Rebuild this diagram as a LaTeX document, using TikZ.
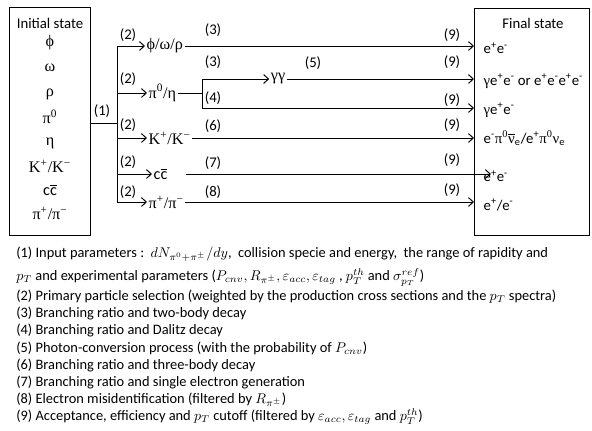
\documentclass[tikz,border=0pt]{standalone}
\usepackage{fontspec}
\setmainfont{Carlito}
\newfontfamily\grk{Liberation Serif}
\usetikzlibrary{arrows.meta,positioning}
\newcommand{\epos}{e\textsuperscript{+}}
\newcommand{\eneg}{e\textsuperscript{-}}

\begin{document}
\begin{tikzpicture}[
    x=0.025cm, y=-0.025cm,
    statebox/.style={draw, line width=0.7pt, inner sep=0pt},
    ptc/.style={inner sep=1pt, font=\grk\fontsize{11.5}{13}\selectfont},
    txt/.style={inner sep=1pt, font=\fontsize{10.5}{12}\selectfont},
    num/.style={inner sep=0pt, font=\fontsize{10.5}{12}\selectfont},
    ln/.style={line width=0.7pt},
    arr/.style={-{Straight Barb[length=1.2mm,width=2.2mm]}, line width=0.7pt},
]
    \useasboundingbox (0,0) rectangle (592,430);

    % boxes
    \node[statebox, minimum width=2cm, minimum height=5.675cm] (init) at (50,121.5) {};
    \node[statebox, minimum width=2.875cm, minimum height=5.65cm] (fin) at (532,122) {};

    \node[txt] (inittitle) at (50,23) {Initial state};
    \node[ptc] (i1) at (50,43) {ϕ};
    \node[ptc] (i2) at (50,68) {ω};
    \node[ptc] (i3) at (50,94) {ρ};
    \node[ptc] (i4) at (50,117) {π\textsuperscript{0}};
    \node[ptc] (i5) at (50,143) {η};
    \node[ptc] (i6) at (50,166) {K\textsuperscript{+}/K\textsuperscript{−}};
    \node[txt, font=\fontsize{11.5}{13}\selectfont] (i7) at (50,190) {c$\overline{\mbox{c}}$};
    \node[ptc] (i8) at (50,213) {π\textsuperscript{+}/π\textsuperscript{−}};

    \node[txt] (fintitle) at (533,23) {Final state};
    \node[txt, anchor=west] (f1) at (482,48) {\epos\eneg};
    \node[txt, anchor=west] (f2) at (482,81) {{\grk γ}\epos\eneg{} or \epos\eneg\epos\eneg};
    \node[txt, anchor=west] (f3) at (482,110) {{\grk γ}\epos\eneg};
    \node[txt, anchor=west] (f4) at (482,138) {\eneg{\grk π\textsuperscript{0}$\overline{\mbox{\grk ν}}$}\textsubscript{e}/\epos{\grk π\textsuperscript{0}ν}\textsubscript{e}};
    \node[txt, anchor=west] (f5) at (482,176) {\epos\eneg};
    \node[txt, anchor=west] (f6) at (482,205) {\epos/\eneg};

    % primary particles
    \node[ptc, anchor=west] (vec) at (145,46) {ϕ/ω/ρ};
    \node[ptc, anchor=west] (pieta) at (147,93) {π\textsuperscript{0}/η};
    \node[ptc, anchor=west] (kaon) at (147,138) {K\textsuperscript{+}/K\textsuperscript{−}};
    \node[txt, font=\fontsize{11.5}{13}\selectfont, anchor=west] (charm) at (152,174) {c$\overline{\mbox{c}}$};
    \node[ptc, anchor=west] (pion) at (147,202) {π\textsuperscript{+}/π\textsuperscript{−}};
    \node[ptc] (gg) at (278,79) {γγ};

    \coordinate (trunk) at (117,123);
    \coordinate (split) at (202,93);
    \coordinate (dal) at (202,108);

    % (1) and (2)
    \draw[ln] (init.east |- trunk) -- (trunk);
    \draw[ln] (trunk |- vec) -- (trunk |- pion);
    \draw[arr] (trunk |- vec) -- (vec.west);
    \draw[arr] (trunk |- pieta) -- (pieta.west);
    \draw[arr] (trunk |- kaon) -- (kaon.west);
    \draw[arr] (trunk |- charm) -- (charm.west);
    \draw[arr] (trunk |- pion) -- (pion.west);

    % decays
    \draw[ln] (pieta.east) -- (split);
    \draw[ln] (split |- gg) -- (dal);
    \draw[arr] (split |- gg) -- (gg.west);
    \draw[arr] (gg.east) -- (gg -| fin.west);
    \draw[arr] (dal) -- (dal -| fin.west);
    \draw[arr] (vec.east) -- (vec.east -| fin.west);
    \draw[arr] (kaon.east) -- (kaon.east -| fin.west);
    \draw[arr] ([xshift=12pt]charm.east) -- ([xshift=12pt]charm.east -| fin.west);
    \draw[arr] (pion.east) -- (pion.east -| fin.west);

    % step numbers
    \node[num] (n1) at (102,111) {(1)};
    \foreach \y [count=\i] in {35,79,125,162,192}
        \node[num] (ntwo\i) at (128,\y) {(2)};
    \node[num] (n3a) at (213,30) {(3)};
    \node[num] (n3b) at (213,62) {(3)};
    \node[num] (n4) at (213,98) {(4)};
    \node[num] (n5) at (313,63) {(5)};
    \node[num] (n6) at (213,126) {(6)};
    \node[num] (n7) at (213,163) {(7)};
    \node[num] (n8) at (213,192) {(8)};
    \foreach \y [count=\i] in {35,62,100,125,160,190}
        \node[num] (nnine\i) at (452,\y) {(9)};

    % legend
    \node[anchor=north west, inner sep=0pt, align=left, font=\fontsize{10.25}{12.2}\selectfont] (notes) at (16,247) {%
        (1) Input parameters :\ \ $dN_{\pi^0+\pi^\pm}/dy$,\ \ collision specie and energy,\ \ the range of rapidity and\\[4pt]
        $p_T$ and experimental parameters ($P_{cnv}, R_{\pi^\pm}, \varepsilon_{acc}, \varepsilon_{tag}$ , $p_T^{th}$ and $\sigma_{p_T}^{ref}$)\\[2pt]
        (2) Primary particle selection (weighted by the production cross sections and the $p_T$ spectra)\\
        (3) Branching ratio and two-body decay\\
        (4) Branching ratio and Dalitz decay\\
        (5) Photon-conversion process (with the probability of $P_{cnv}$)\\
        (6) Branching ratio and three-body decay\\
        (7) Branching ratio and single electron generation\\
        (8) Electron misidentification (filtered by $R_{\pi^\pm}$)\\
        (9) Acceptance, efficiency and $p_T$ cutoff (filtered by $\varepsilon_{acc}, \varepsilon_{tag}$ and $p_T^{th}$)};
\end{tikzpicture}
\end{document}
